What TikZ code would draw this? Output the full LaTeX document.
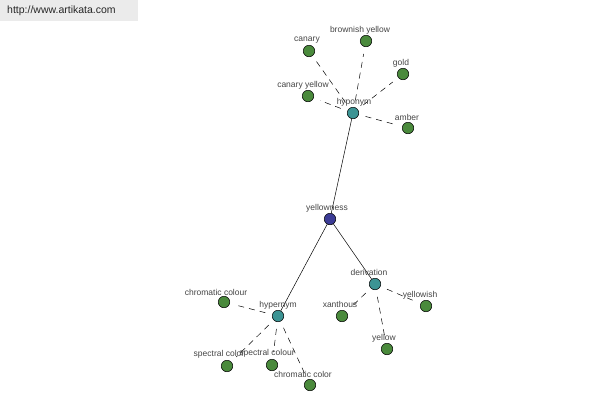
\documentclass[tikz,border=0pt]{standalone}
\usepackage{fontspec}
\setmainfont{Liberation Sans}
\definecolor{leafc}{HTML}{4A8A3C}
\definecolor{hubc}{HTML}{3C9494}
\definecolor{rootc}{HTML}{3C3C96}
\definecolor{labc}{HTML}{444444}
\definecolor{boxc}{HTML}{EBEBEB}
\begin{document}
\begin{tikzpicture}[x=1pt,y=-1pt,
  dot/.style={circle,draw=black,line width=0.5pt,minimum size=11.5pt,inner sep=0pt},
  leaf/.style={dot,fill=leafc},
  hub/.style={dot,fill=hubc},
  root/.style={dot,fill=rootc},
  lab/.style={font=\fontsize{8.5}{9}\selectfont,text=labc,inner sep=0pt},
  rel/.style={line width=0.5pt},
  sub/.style={line width=0.5pt,dash pattern=on 6pt off 5pt,shorten <=7pt,shorten >=7pt}]
\useasboundingbox (0,0) rectangle (600,400);
\fill[boxc] (0,0) rectangle (138,21);
\node[anchor=west,font=\fontsize{10.5}{11}\selectfont,text=black!85,inner sep=0pt] (url) at (7,11) {http://www.artikata.com};
% nodes
\node[root] (yw) at (330,219) {};
\node[hub] (hypo) at (353,113) {};
\node[hub] (der) at (375,284) {};
\node[hub] (hyper) at (278,316) {};
\node[leaf] (canary) at (309,51) {};
\node[leaf] (brown) at (366,41) {};
\node[leaf] (gold) at (403,74) {};
\node[leaf] (cy) at (308,96) {};
\node[leaf] (amber) at (408,128) {};
\node[leaf] (xan) at (342,316) {};
\node[leaf] (yish) at (426,306) {};
\node[leaf] (yel) at (387,349) {};
\node[leaf] (chc) at (224,302) {};
\node[leaf] (spc) at (227,366) {};
\node[leaf] (spcl) at (272,365) {};
\node[leaf] (chcol) at (310,385) {};
% edges
\draw[rel] (yw) -- (hypo);
\draw[rel] (yw) -- (der);
\draw[rel] (yw) -- (hyper);
\foreach \a in {canary,brown,gold,cy,amber} \draw[sub] (hypo) -- (\a);
\foreach \a in {xan,yish,yel} \draw[sub] (der) -- (\a);
\foreach \a in {chc,spc,spcl,chcol} \draw[sub] (hyper) -- (\a);
% labels
\node[lab] (l1) at (327,208) {yellowness};
\node[lab] (l2) at (354,102) {hyponym};
\node[lab] (l3) at (369,272) {derivation};
\node[lab] (l4) at (278,305) {hypernym};
\node[lab] (l5) at (307,40) {canary};
\node[lab] (l6) at (360,30) {brownish yellow};
\node[lab] (l7) at (401,63) {gold};
\node[lab] (l8) at (303,85) {canary yellow};
\node[lab] (l9) at (407,117) {amber};
\node[lab] (l10) at (340,304) {xanthous};
\node[lab] (l11) at (420,295) {yellowish};
\node[lab] (l12) at (384,338) {yellow};
\node[lab] (l13) at (216,292) {chromatic colour};
\node[lab] (l14) at (219,354) {spectral color};
\node[lab] (l15) at (267,353) {spectral colour};
\node[lab] (l16) at (303,374) {chromatic color};
\end{tikzpicture}
\end{document}
